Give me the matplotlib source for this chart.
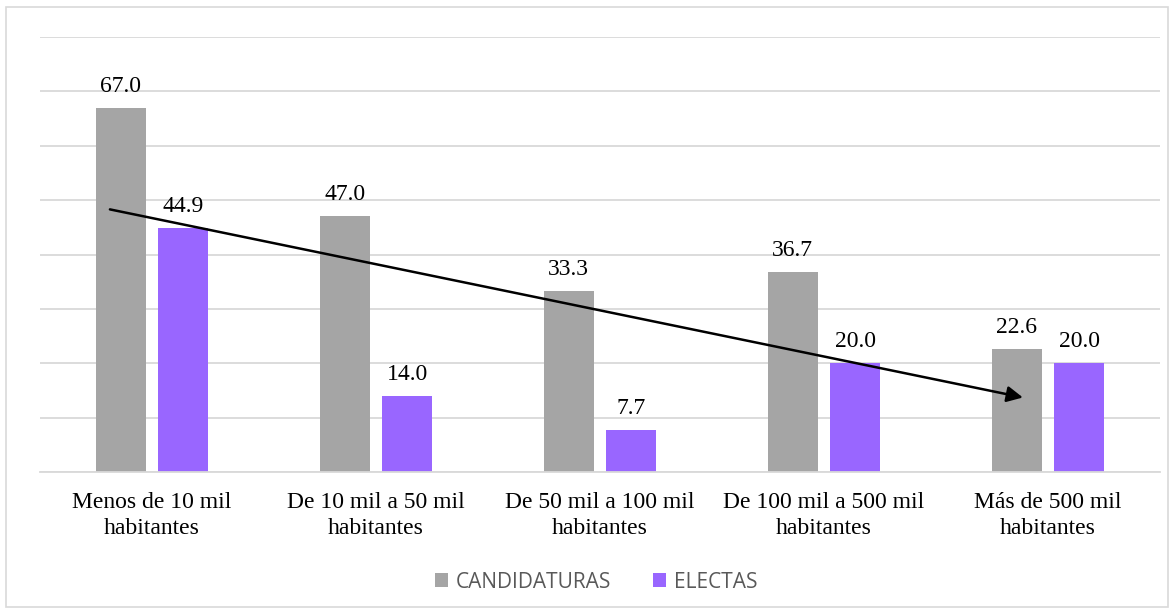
import matplotlib.pyplot as plt
from matplotlib.patches import Rectangle
import numpy as np

plt.rcParams['font.family'] = ['Liberation Serif', 'DejaVu Serif']

categorias = ['Menos de 10 mil\nhabitantes', 'De 10 mil a 50 mil\nhabitantes',
              'De 50 mil a 100 mil\nhabitantes', 'De 100 mil a 500 mil\nhabitantes',
              'Más de 500 mil\nhabitantes']
candidaturas = [67.0, 47.0, 33.3, 36.7, 22.6]
electas = [44.9, 14.0, 7.7, 20.0, 20.0]

fig = plt.figure(figsize=(11.74, 6.14), dpi=100)
ax = fig.add_axes([40/1174, 1 - 472/614, 1120/1174, (472 - 37)/614])

x = np.arange(len(categorias))
w = 0.223
b1 = ax.bar(x - 0.14, candidaturas, w, color='#A5A5A5', label='CANDIDATURAS', zorder=2)
b2 = ax.bar(x + 0.14, electas, w, color='#9966FF', label='ELECTAS', zorder=2)

for bars in (b1, b2):
    for r in bars:
        ax.annotate(f'{r.get_height():.1f}', (r.get_x() + r.get_width()/2, r.get_height()),
                    xytext=(0, 8), textcoords='offset points', ha='center', va='bottom',
                    fontsize=17, color='#000000')

# flecha de tendencia
ax.annotate('', xy=(3.9, 13.6), xytext=(-0.2, 48.4),
            arrowprops=dict(arrowstyle='-|>', color='black', lw=1.8, mutation_scale=24), zorder=5)

ax.set_xlim(-0.5, 4.5)
ax.set_ylim(0, 80)
ax.set_yticks(np.arange(0, 81, 10))
ax.yaxis.grid(True, color='#D9D9D9', lw=1.3, zorder=0)
ax.tick_params(axis='y', left=False, labelleft=False)
ax.tick_params(axis='x', bottom=False, pad=11)
ax.set_xticks(x)
ax.set_xticklabels(categorias, fontsize=17, linespacing=1.3)
for s in ['top', 'right', 'left']:
    ax.spines[s].set_visible(False)
ax.spines['bottom'].set_color('#D9D9D9')
ax.spines['bottom'].set_linewidth(1.3)

ax.legend(loc='center', bbox_to_anchor=(596/1174, 1 - 582/614), bbox_transform=fig.transFigure,
          ncol=2, frameon=False, prop={'family': ['Open Sans', 'DejaVu Sans'], 'size': 15},
          handlelength=0.65, handleheight=0.65, columnspacing=2.0, handletextpad=0.35,
          labelcolor='#595959')

fig.patches.append(Rectangle((6/1174, 1 - 607/614), 1162/1174, 600/614, transform=fig.transFigure,
                             fill=False, edgecolor='#D9D9D9', lw=1.2))

fig.savefig('out.png', dpi=100)
